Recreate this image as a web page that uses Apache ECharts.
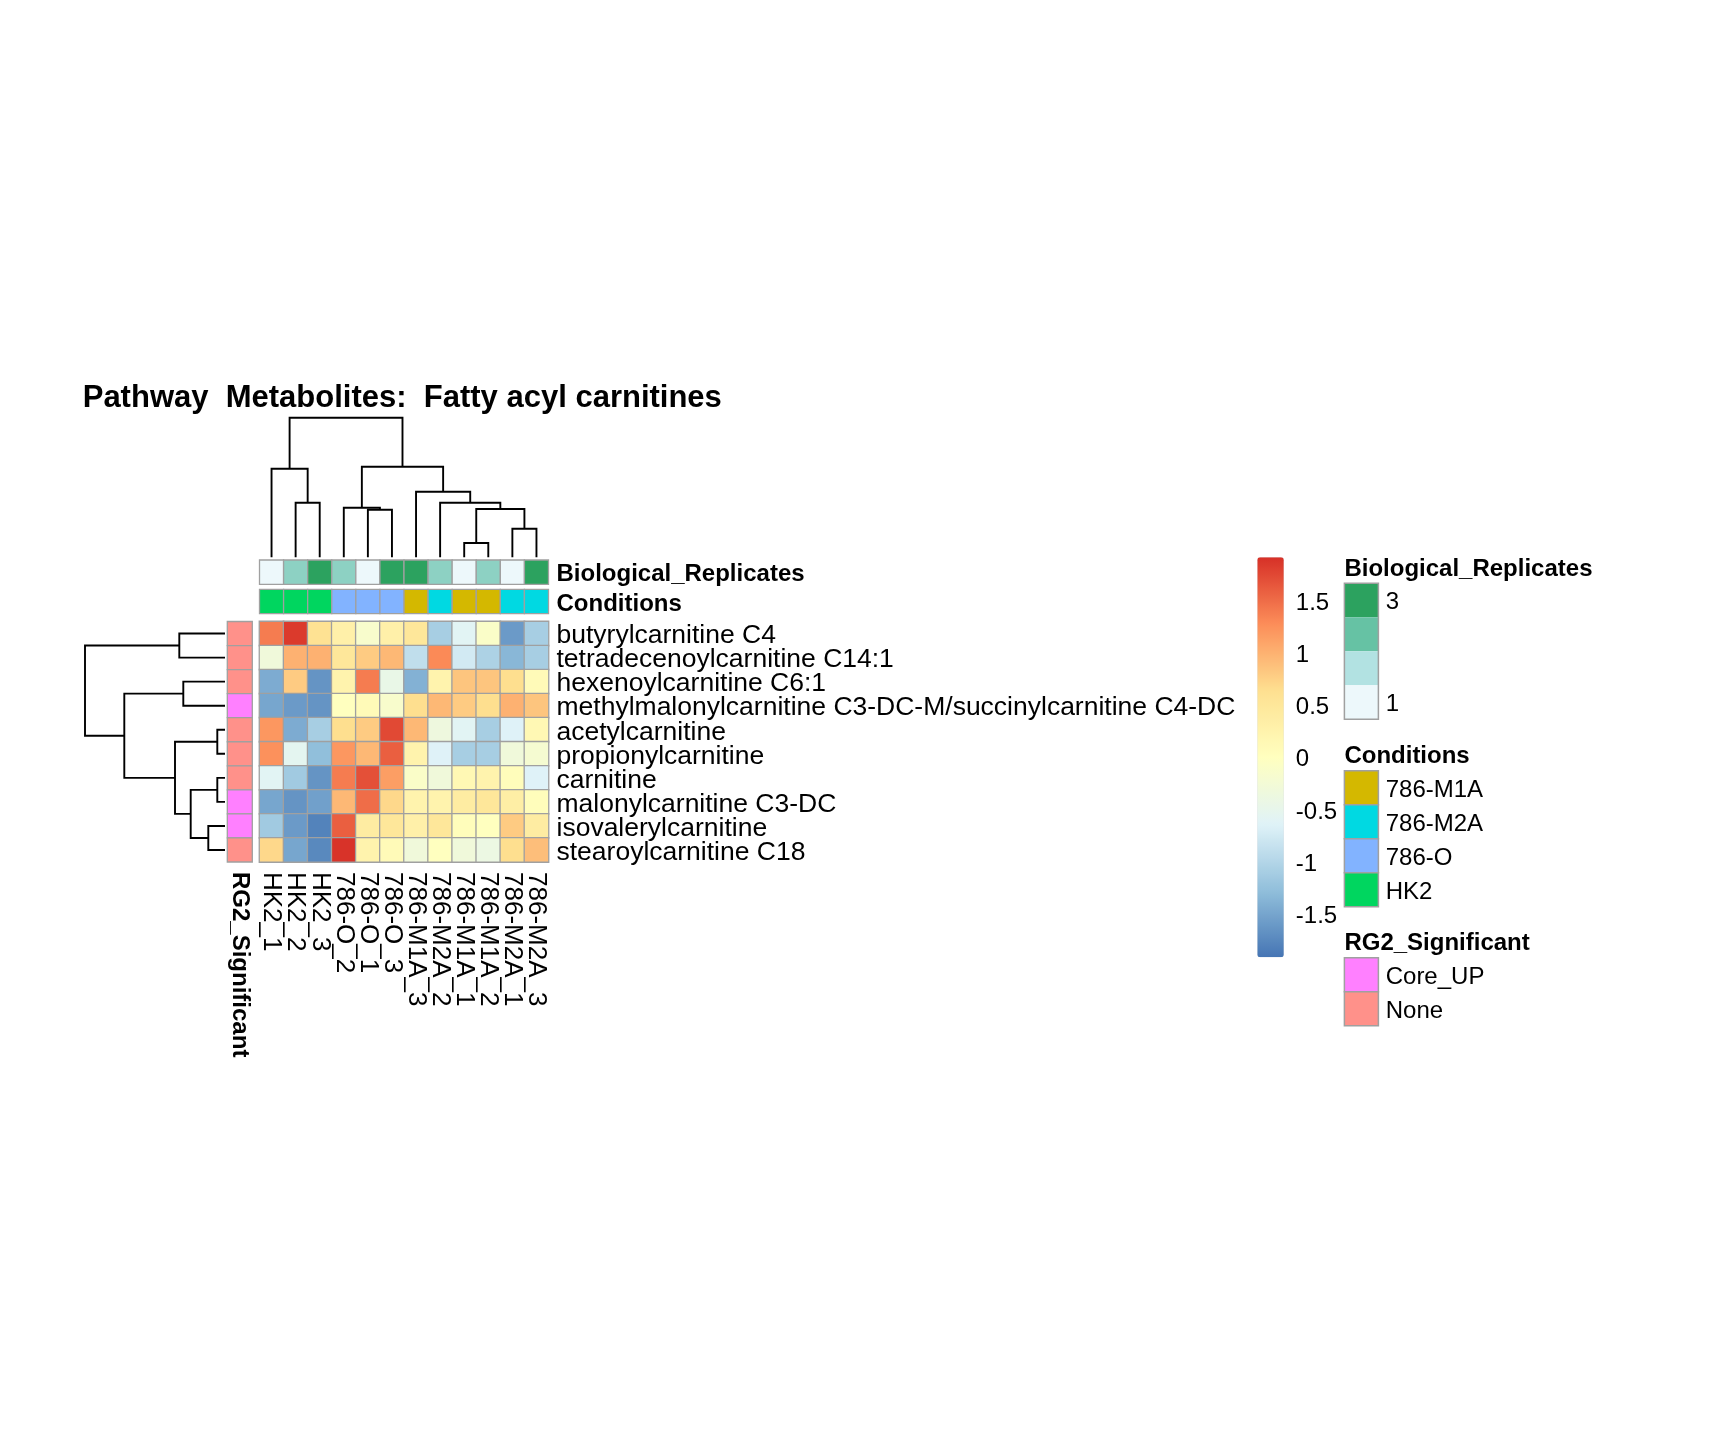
<!DOCTYPE html>
<html><head><meta charset="utf-8">
<script src="https://cdn.jsdelivr.net/npm/echarts@6/dist/echarts.min.js"></script>
<style>html,body{margin:0;padding:0;background:#fff}#c{width:1728px;height:1440px}</style>
</head><body><div id="c"></div>
<script>
// ---------- DATA ----------
const titleText = 'Pathway  Metabolites:  Fatty acyl carnitines';
const samples = ['HK2_1','HK2_2','HK2_3','786-O_2','786-O_1','786-O_3','786-M1A_3','786-M2A_2','786-M1A_1','786-M1A_2','786-M2A_1','786-M2A_3'];
const metabolites = ['butyrylcarnitine C4','tetradecenoylcarnitine C14:1','hexenoylcarnitine C6:1',
  'methylmalonylcarnitine C3-DC-M/succinylcarnitine C4-DC','acetylcarnitine','propionylcarnitine',
  'carnitine','malonylcarnitine C3-DC','isovalerylcarnitine','stearoylcarnitine C18'];
const butyryl      = [1.4, 1.85, 0.6, 0.3, -0.15, 0.3, 0.5, -1.1, -0.6, -0.1, -1.6, -1.1];
const tetradecenoyl= [-0.3, 1.0, 1.0, 0.5, 0.8, 0.95, -0.9, 1.3, -0.75, -1.05, -1.35, -1.1];
const hexenoyl     = [-1.45, 0.8, -1.65, 0.25, 1.4, -0.45, -1.4, 0.25, 0.85, 0.85, 0.65, 0.1];
const methylmalonyl= [-1.5, -1.6, -1.65, 0.0, 0.1, -0.15, 0.65, 0.95, 0.8, 0.65, 1.0, 0.85];
const acetyl       = [1.2, -1.45, -1.1, 0.65, 0.8, 1.75, 0.95, -0.35, -0.6, -1.1, -0.65, 0.15];
const propionyl    = [1.25, -0.55, -1.28, 1.2, 0.95, 1.6, 0.25, -0.65, -1.1, -1.1, -0.3, -0.2];
const carnitine    = [-0.6, -1.15, -1.65, 1.4, 1.7, 1.15, -0.1, -0.3, 0.15, 0.25, 0.05, -0.65];
const malonyl      = [-1.5, -1.65, -1.55, 0.95, 1.5, 0.7, 0.25, 0.25, 0.4, 0.5, 0.35, 0.05];
const isovaleryl   = [-1.15, -1.6, -1.8, 1.6, 0.4, 0.5, 0.3, 0.5, 0.05, 0.0, 0.8, 0.4];
const stearoyl     = [0.7, -1.5, -1.75, 1.9, 0.25, 0.1, -0.3, 0.0, -0.3, -0.4, 0.65, 0.9];
const zRows = [butyryl, tetradecenoyl, hexenoyl, methylmalonyl, acetyl, propionyl, carnitine, malonyl, isovaleryl, stearoyl];

const replicates = [1,2,3,2,1,3,3,2,1,2,1,3];
const conditions = ['HK2','HK2','HK2','786-O','786-O','786-O','786-M1A','786-M2A','786-M1A','786-M1A','786-M2A','786-M2A'];
const rg2 = ['None','None','None','Core_UP','None','None','None','Core_UP','Core_UP','None'];

const scaleMax = 1.92;
const scaleTicks = [-1.5,-1,-0.5,0,0.5,1,1.5];
const heatColors = ['#4575B4','#91BFDB','#E0F3F8','#FFFFBF','#FEE090','#FC8D59','#D73027'];
const replicateLegendColors = ['#2CA25F','#66C2A4','#B2E2E2','#EDF8FB'];
const replicateLegendLabels = ['3','','','1'];
const replicateColors = {1:'#EDF8FB', 2:'#8DD1C3', 3:'#2CA25F'};
const conditionLevels = ['786-M1A','786-M2A','786-O','HK2'];
const conditionColors = ['#D4B800','#00D9E2','#82B3FF','#00D65F'];
const rg2Levels = ['Core_UP','None'];
const rg2Colors = ['#FF80FF','#FF918A'];

// dendrograms: hclust-style merges (negative = leaf index+1 in display order), heights
const colMerges = [[-9,-10],[-11,-12],[-5,-6],[1,2],[-4,3],[-2,-3],[-8,4],[-7,7],[-1,6],[5,8],[9,10]];
const colHeights = [14.3,28.6,47.6,48.3,49.6,54.6,54.6,65.6,88.6,90.6,139.6];
const rowMerges = [[-5,-6],[-7,-8],[-9,-10],[2,3],[-3,-4],[-1,-2],[1,4],[5,7],[6,8]];
const rowHeights = [7.7,7.7,16.7,34.3,41.7,45.7,50,100.7,140];

// ---------- BUILD ----------
const FONT = 'Liberation Sans, Arial, Helvetica, sans-serif';
const SHIFT = 2.5; // text baseline nudge
function dendro(merges, heights){
  const pos=[], hg=[], items=[];
  merges.forEach((m,k)=>{
    const get = id => id<0 ? [-id-1+0.5, 0] : [pos[id-1], hg[id-1]];
    const a=get(m[0]), b=get(m[1]);
    pos[k]=(a[0]+b[0])/2; hg[k]=heights[k];
    items.push([a[0],a[1],b[0],b[1],heights[k]]);
  });
  return items;
}
const colDendro = dendro(colMerges, colHeights);
const rowDendro = dendro(rowMerges, rowHeights);

const heatData = [];
zRows.forEach((row,r)=>row.forEach((v,c)=>heatData.push([c,r,v])));

const L = {hx:259.5, hy:621.5, hw:289, hh:240.5};
const cellStroke = '#A0A0A0';

function cellItem(params, api){
  const p = api.coord([api.value(0), api.value(1)]);
  const s = api.size([1,1]);
  return {type:'rect', shape:{x:p[0]-s[0]/2, y:p[1]-s[1]/2, width:s[0], height:s[1]},
    style:{fill:api.visual('color'), stroke:cellStroke, lineWidth:1.3}};
}
const hidden = {show:false};
function catAxis(idx, data, extra){ return Object.assign({type:'category', gridIndex:idx, data:data, axisLine:hidden, axisTick:hidden, splitLine:hidden, axisLabel:hidden}, extra||{}); }

const grids = [
  {left:L.hx, top:L.hy, width:L.hw, height:L.hh},            // 0 heatmap
  {left:L.hx, top:560, width:L.hw, height:24.3},              // 1 replicates
  {left:L.hx, top:589.3, width:L.hw, height:24.3},            // 2 conditions
  {left:227.3, top:L.hy, width:25, height:L.hh},              // 3 RG2
  {left:L.hx, top:417.7, width:L.hw, height:139.6},           // 4 col dendro
  {left:85, top:L.hy, width:140, height:L.hh},                // 5 row dendro
  {left:1257.3, top:557.3, width:26.5, height:400}            // 6 colorbar axis
].map(g=>Object.assign({outerBoundsMode:'none', containLabel:false, show:false}, g));

const labelStyle = {color:'#000', fontFamily:FONT};
// horizontal labels: nudge glyphs down by SHIFT
const hLabel = {color:'#000', fontFamily:FONT, verticalAlign:'top', lineHeight:SHIFT*2};
const xAxes = [
  catAxis(0, samples, {position:'bottom', axisLabel:Object.assign({show:true, rotate:-90, fontSize:26, margin:10, interval:0}, labelStyle)}),
  catAxis(1, samples), catAxis(2, samples),
  catAxis(3, ['RG2_Significant'], {position:'bottom', axisLabel:Object.assign({show:true, rotate:-90, fontSize:24, fontWeight:'bold', margin:10}, labelStyle)}),
  {type:'value', gridIndex:4, min:0, max:samples.length, show:false},
  {type:'value', gridIndex:5, min:0, max:Math.max(...rowHeights), inverse:true, show:false},
  {type:'value', gridIndex:6, min:0, max:1, show:false}
];
const yAxes = [
  catAxis(0, metabolites, {inverse:true, position:'right', axisLabel:Object.assign({show:true, fontSize:26.5, margin:8, interval:0}, hLabel)}),
  catAxis(1, ['Biological_Replicates'], {position:'right', axisLabel:Object.assign({show:true, fontSize:24, fontWeight:'bold', margin:8}, hLabel)}),
  catAxis(2, ['Conditions'], {position:'right', axisLabel:Object.assign({show:true, fontSize:24, fontWeight:'bold', margin:8}, hLabel)}),
  catAxis(3, metabolites, {inverse:true}),
  {type:'value', gridIndex:4, min:0, max:Math.max(...colHeights), show:false},
  {type:'value', gridIndex:5, min:0, max:metabolites.length, inverse:true, show:false},
  {type:'value', gridIndex:6, min:-scaleMax, max:scaleMax, position:'right', axisLine:hidden, axisTick:hidden, splitLine:hidden,
    axisLabel:Object.assign({show:true, fontSize:24, margin:12, customValues:scaleTicks, formatter:v=>String(v)}, hLabel)}
];

function dendroSeries(xi, horizontal, data){
  return {type:'custom', xAxisIndex:xi, yAxisIndex:xi, data:data, silent:true, clip:false,
    renderItem(params, api){
      const a=api.value(0), ha=api.value(1), b=api.value(2), hb=api.value(3), h=api.value(4);
      const P = horizontal ? (p,q)=>api.coord([q,p]) : (p,q)=>api.coord([p,q]);
      return {type:'polyline', shape:{points:[P(a,ha),P(a,h),P(b,h),P(b,hb)]},
        style:{stroke:'#000', lineWidth:1.9, fill:null}};
    }};
}

const series = [
  {type:'heatmap', xAxisIndex:0, yAxisIndex:0, data:heatData,
   itemStyle:{borderColor:cellStroke, borderWidth:1.3}, emphasis:{disabled:true}},
  {type:'custom', xAxisIndex:1, yAxisIndex:1, renderItem:cellItem,
   data:replicates.map((r,i)=>({value:[i,0], itemStyle:{color:replicateColors[r]}}))},
  {type:'custom', xAxisIndex:2, yAxisIndex:2, renderItem:cellItem,
   data:conditions.map((c,i)=>({value:[i,0], itemStyle:{color:conditionColors[conditionLevels.indexOf(c)]}}))},
  {type:'custom', xAxisIndex:3, yAxisIndex:3, renderItem:cellItem,
   data:rg2.map((g,i)=>({value:[0,i], itemStyle:{color:rg2Colors[rg2Levels.indexOf(g)]}}))},
  dendroSeries(4, false, colDendro),
  dendroSeries(5, true, rowDendro),
  {type:'scatter', xAxisIndex:6, yAxisIndex:6, data:[], silent:true}
];

// legends (graphic)
const graphics = [];
const lx = 1344.4, bw = 34, bh = 34, tx = 1385.7;
function legTitle(text, y){ graphics.push({type:'text', style:{x:lx, y:y+SHIFT, text:text, fontSize:24, fontWeight:'bold', fontFamily:FONT, fill:'#000', verticalAlign:'middle'}}); }
function legLabel(text, y){ graphics.push({type:'text', style:{x:tx, y:y+SHIFT, text:text, fontSize:24, fontFamily:FONT, fill:'#000', verticalAlign:'middle'}}); }
// Biological replicates (continuous bands)
legTitle('Biological_Replicates', 567);
replicateLegendColors.forEach((c,k)=>{
  graphics.push({type:'rect', shape:{x:lx, y:583.3+k*bh, width:bw, height:bh}, style:{fill:c}});
  if (replicateLegendLabels[k]) legLabel(replicateLegendLabels[k], 583.3+k*bh+bh/2);
});
graphics.push({type:'rect', shape:{x:lx, y:583.3, width:bw, height:bh*replicateLegendColors.length}, style:{fill:null, stroke:cellStroke, lineWidth:1.5}});
legTitle('Conditions', 754);
conditionLevels.forEach((c,k)=>{
  graphics.push({type:'rect', shape:{x:lx, y:770.7+k*bh, width:bw, height:bh}, style:{fill:conditionColors[k], stroke:cellStroke, lineWidth:1.5}});
  legLabel(c, 770.7+k*bh+bh/2);
});
legTitle('RG2_Significant', 941);
rg2Levels.forEach((c,k)=>{
  graphics.push({type:'rect', shape:{x:lx, y:957.7+k*bh, width:bw, height:bh}, style:{fill:rg2Colors[k], stroke:cellStroke, lineWidth:1.5}});
  legLabel(c, 957.7+k*bh+bh/2);
});

const chart = echarts.init(document.getElementById('c'), null, {renderer:'canvas'});
chart.setOption({
  backgroundColor:'#fff',
  animation:false,
  textStyle:{fontFamily:FONT},
  title:{text:titleText, left:82.7, top:380+SHIFT, padding:0,
    textStyle:{fontSize:31, fontWeight:'bold', color:'#000', fontFamily:FONT}},
  grid:grids, xAxis:xAxes, yAxis:yAxes,
  visualMap:{type:'continuous', seriesIndex:0, min:-scaleMax, max:scaleMax, calculable:false,
    inRange:{color:heatColors}, orient:'vertical', left:1257.3, top:557.3, padding:0,
    itemWidth:26.5, itemHeight:400, hoverLink:false},
  graphic:graphics,
  series:series
});
</script></body></html>
